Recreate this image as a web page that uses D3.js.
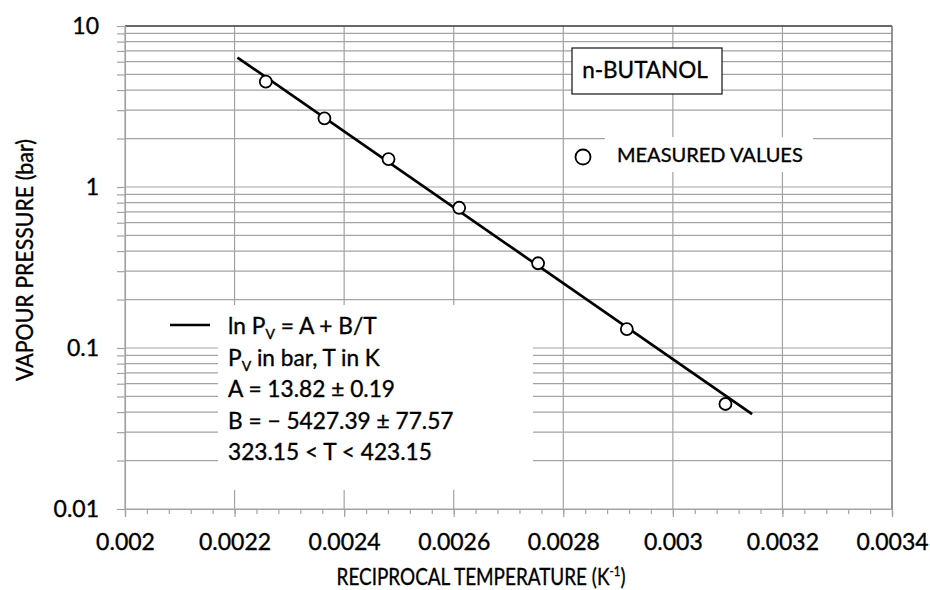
<!DOCTYPE html>
<html>
<head>
<meta charset="utf-8">
<script src="https://cdn.jsdelivr.net/npm/d3@7"></script>
<style>
  html, body { margin: 0; padding: 0; background: #fff; }
  svg { display: block; font-family: Lato, "Open Sans", sans-serif; }
  .txt { fill: #000; stroke: #000; stroke-width: 0.35; }
</style>
</head>
<body>
<svg id="chart" width="930" height="590"></svg>
<script>
// ---- data ----
const xTickValues = [0.002, 0.0022, 0.0024, 0.0026, 0.0028, 0.003, 0.0032, 0.0034];
const xTickLabels = ["0.002", "0.0022", "0.0024", "0.0026", "0.0028", "0.003", "0.0032", "0.0034"];
const yTickValues = [0.01, 0.1, 1, 10];
const yTickLabels = ["0.01", "0.1", "1", "10"];
const measuredX = [0.002257, 0.002364, 0.002481, 0.002610, 0.002754, 0.002916, 0.003096];
const measuredP = [4.51, 2.67, 1.49, 0.743, 0.336, 0.131, 0.0449];
const fitX = [0.0022053, 0.0031447];
const fitP = [6.37, 0.0389];
const legendLines = ["ln P|V| = A + B/T", "P|V| in bar, T in K", "A = 13.82 ± 0.19", "B = − 5427.39 ± 77.57", "323.15 < T < 423.15"];

// ---- layout ----
const svg = d3.select("#chart");
const L = 125, R = 892, T = 26, B = 509;
const x = d3.scaleLinear().domain([0.002, 0.0034]).range([L, R]);
const y = d3.scaleLog().domain([0.01, 10]).range([B, T]);

const gridColor = "#a3a3a3";

// all horizontal grid values (1..9 per decade)
const yGridVals = [];
[0.01, 0.1, 1].forEach(d => { for (let k = 1; k <= 9; k++) yGridVals.push(+(d * k).toPrecision(3)); });
yGridVals.push(10);

// x minor ticks
const xMinor = [];
for (let i = 0; i <= 35; i++) xMinor.push(+(0.002 + i * 0.00004).toFixed(6));

// horizontal gridlines
svg.append("g").selectAll("line").data(yGridVals).join("line")
  .attr("x1", L).attr("x2", R)
  .attr("y1", d => y(d)).attr("y2", d => y(d))
  .attr("stroke", gridColor).attr("stroke-width", 1.2);

// vertical gridlines
svg.append("g").selectAll("line").data(xTickValues).join("line")
  .attr("x1", d => x(d)).attr("x2", d => x(d))
  .attr("y1", T).attr("y2", B)
  .attr("stroke", gridColor).attr("stroke-width", 1.2);

// top border
svg.append("line").attr("x1", L).attr("x2", R).attr("y1", T).attr("y2", T)
  .attr("stroke", "#444").attr("stroke-width", 1.5);

// Y axis
const yAxis = d3.axisLeft(y).tickValues(yGridVals).tickSize(8).tickPadding(18)
  .tickFormat(d => { const i = yTickValues.findIndex(v => Math.abs(v - d) < 1e-9); return i >= 0 ? yTickLabels[i] : ""; });
const gy = svg.append("g").attr("transform", `translate(${L},0)`).call(yAxis);
gy.select(".domain").attr("stroke", gridColor).attr("stroke-width", 1.2);
gy.selectAll(".tick line").attr("stroke", gridColor).attr("stroke-width", 1.2);
gy.selectAll(".tick text").attr("font-size", 23).attr("class", "txt").attr("font-family", "Lato");

// X axis minor ticks
const gxm = svg.append("g").attr("transform", `translate(0,${B})`)
  .call(d3.axisBottom(x).tickValues(xMinor).tickSize(5).tickFormat(""));
gxm.select(".domain").remove();
gxm.selectAll(".tick line").attr("stroke", gridColor).attr("stroke-width", 1.2);

// X axis major
const gx = svg.append("g").attr("transform", `translate(0,${B})`)
  .call(d3.axisBottom(x).tickValues(xTickValues).tickSize(8).tickPadding(17)
    .tickFormat((d, i) => xTickLabels[i]));
gx.select(".domain").attr("stroke", gridColor).attr("stroke-width", 1.2);
gx.selectAll(".tick line").attr("stroke", gridColor).attr("stroke-width", 1.2);
gx.selectAll(".tick text").attr("font-size", 23).attr("class", "txt").attr("font-family", "Lato");

// right border
svg.append("line").attr("x1", R).attr("x2", R).attr("y1", T).attr("y2", B)
  .attr("stroke", "#777").attr("stroke-width", 1.3);

// axis titles (condensed horizontally to match the narrow original face)
const xtG = svg.append("g");
const xt = xtG.append("text").attr("class", "txt").attr("x", 0).attr("y", 0)
  .attr("text-anchor", "middle").attr("font-size", 23);
xt.append("tspan").text("RECIPROCAL TEMPERATURE (K");
xt.append("tspan").attr("font-size", 14).attr("dy", -9).text("-1");
xt.append("tspan").attr("dy", 9).text(")");
const xtW = xt.node().getBBox().width;
xtG.attr("transform", `translate(481,585) scale(${289 / xtW},1)`);

const ytG = svg.append("g");
const yt = ytG.append("text").attr("class", "txt").attr("x", 0).attr("y", 0)
  .attr("text-anchor", "middle").attr("font-size", 23)
  .text("VAPOUR PRESSURE (bar)");
const ytW = yt.node().getBBox().width;
ytG.attr("transform", `translate(33,260) rotate(-90) scale(${242 / ytW},1)`);

// white boxes behind legends
svg.append("rect").attr("x", 218).attr("y", 305).attr("width", 315).attr("height", 185).attr("fill", "#fff");
svg.append("rect").attr("x", 605).attr("y", 137).attr("width", 208).attr("height", 35).attr("fill", "#fff");

// fit line
const line = d3.line().x(d => x(d[0])).y(d => y(d[1]));
svg.append("path").datum(fitX.map((v, i) => [v, fitP[i]]))
  .attr("d", line).attr("fill", "none").attr("stroke", "#000").attr("stroke-width", 2.7);

// measured points
svg.append("g").selectAll("circle").data(measuredX.map((v, i) => [v, measuredP[i]])).join("circle")
  .attr("cx", d => x(d[0])).attr("cy", d => y(d[1])).attr("r", 6)
  .attr("fill", "#fff").attr("stroke", "#000").attr("stroke-width", 1.8);

// n-BUTANOL box
svg.append("rect").attr("x", 572).attr("y", 48).attr("width", 150).attr("height", 46)
  .attr("fill", "#fff").attr("stroke", "#111").attr("stroke-width", 1.2);
svg.append("text").attr("class", "txt").attr("x", 645).attr("y", 78).attr("text-anchor", "middle")
  .attr("font-size", 22.5).text("n-BUTANOL");

// measured legend
svg.append("circle").attr("cx", 583).attr("cy", 157).attr("r", 7.5)
  .attr("fill", "#fff").attr("stroke", "#000").attr("stroke-width", 1.8);
svg.append("text").attr("class", "txt").attr("x", 617).attr("y", 162).attr("font-size", 20)
  .text("MEASURED VALUES");

// fit legend
svg.append("line").attr("x1", 170).attr("x2", 210).attr("y1", 325).attr("y2", 325)
  .attr("stroke", "#000").attr("stroke-width", 2.7);
legendLines.forEach((s, i) => {
  const t = svg.append("text").attr("class", "txt").attr("x", 228).attr("y", 334 + i * 31.5)
    .attr("font-size", 22.7);
  const parts = s.split("|");
  parts.forEach((p, j) => {
    if (j % 2 === 1) {
      t.append("tspan").attr("font-size", 14).attr("dy", 5).text(p);
    } else {
      const ts = t.append("tspan").text(p);
      if (j > 0) ts.attr("dy", -5);
    }
  });
});
</script>
</body>
</html>
